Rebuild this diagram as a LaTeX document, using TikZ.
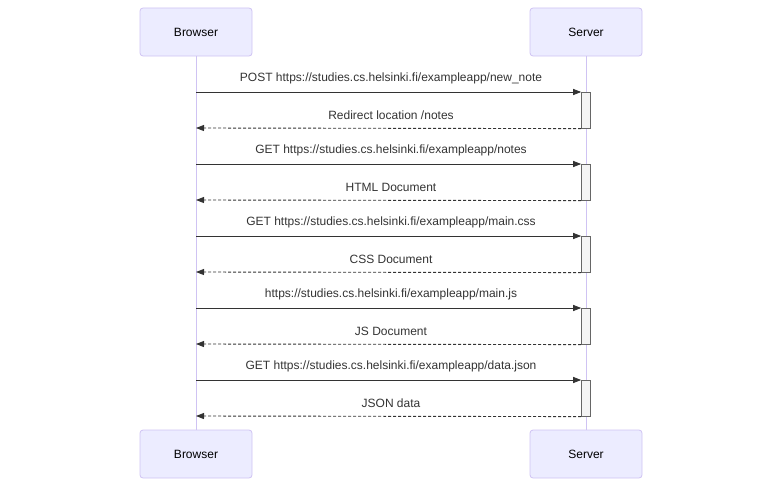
\documentclass[tikz,border=0pt]{standalone}
\usepackage{fontspec}
\setmainfont{Liberation Sans}
\usetikzlibrary{arrows.meta}
\definecolor{actfill}{HTML}{ECECFF}
\definecolor{actline}{HTML}{CFC3F3}
\definecolor{txt}{HTML}{333333}
\definecolor{barfill}{HTML}{F4F4F4}
\definecolor{barline}{HTML}{666666}
\begin{document}
\begin{tikzpicture}[x=1pt,y=-1pt,
  actor/.style={draw=actline,fill=actfill,rounded corners=3pt,minimum width=112pt,minimum height=48pt,inner sep=0pt,line width=0.8pt,font=\fontsize{12}{14}\selectfont,text=black},
  actbar/.style={draw=barline,fill=barfill,minimum width=9pt,inner sep=0pt,line width=0.6pt},
  msg/.style={draw=txt,line width=0.9pt,-{Triangle[length=8pt,width=6pt]}},
  reply/.style={msg,dash pattern=on 3pt off 2pt},
  lbl/.style={font=\fontsize{12}{14}\selectfont,text=txt,inner sep=0pt}
]
\useasboundingbox (0,0) rectangle (783,487);
\node[actor] (b1) at (196,32) {Browser};
\node[actor] (s1) at (586,32) {Server};
\node[actor] (b2) at (196,454) {Browser};
\node[actor] (s2) at (586,454) {Server};
\draw[actline,line width=0.8pt] (b1.south) -- (b2.north);
\draw[actline,line width=0.8pt] (s1.south) -- (s2.north);
\foreach \i/\y in {1/92,2/164,3/236,4/308,5/380}{
  \node[actbar,minimum height=36pt,anchor=north] (a\i) at (586,\y) {};
  \coordinate (bs\i) at (196,\y);
  \coordinate (ss\i) at (586,\y);
  \coordinate (br\i) at (196,\y+36);
  \coordinate (sr\i) at (586,\y+36);
}
\draw[msg] (bs1) -- (a1.north west);
\path (bs1) -- (ss1) node[lbl,midway,above=8pt] {POST https://studies.cs.helsinki.fi/exampleapp/new\_note};
\draw[reply] (a1.south west) -- (br1);
\path (br1) -- (sr1) node[lbl,midway,above=8pt] {Redirect location /notes};
\draw[msg] (bs2) -- (a2.north west);
\path (bs2) -- (ss2) node[lbl,midway,above=8pt] {GET https://studies.cs.helsinki.fi/exampleapp/notes};
\draw[reply] (a2.south west) -- (br2);
\path (br2) -- (sr2) node[lbl,midway,above=8pt] {HTML Document};
\draw[msg] (bs3) -- (a3.north west);
\path (bs3) -- (ss3) node[lbl,midway,above=8pt] {GET https://studies.cs.helsinki.fi/exampleapp/main.css};
\draw[reply] (a3.south west) -- (br3);
\path (br3) -- (sr3) node[lbl,midway,above=8pt] {CSS Document};
\draw[msg] (bs4) -- (a4.north west);
\path (bs4) -- (ss4) node[lbl,midway,above=8pt] {https://studies.cs.helsinki.fi/exampleapp/main.js};
\draw[reply] (a4.south west) -- (br4);
\path (br4) -- (sr4) node[lbl,midway,above=8pt] {JS Document};
\draw[msg] (bs5) -- (a5.north west);
\path (bs5) -- (ss5) node[lbl,midway,above=8pt] {GET https://studies.cs.helsinki.fi/exampleapp/data.json};
\draw[reply] (a5.south west) -- (br5);
\path (br5) -- (sr5) node[lbl,midway,above=8pt] {JSON data};
\end{tikzpicture}
\end{document}
